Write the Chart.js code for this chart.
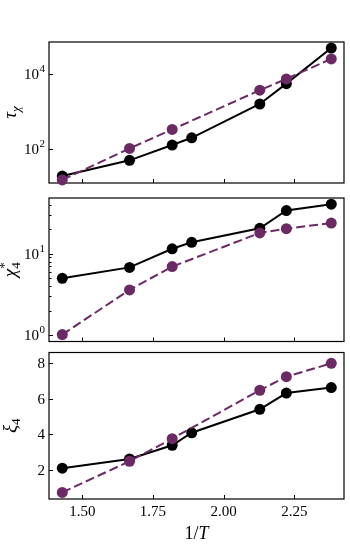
<!DOCTYPE html>
<html>
<head>
<meta charset="utf-8">
<script src="https://cdn.jsdelivr.net/npm/chart.js@4.4.0/dist/chart.umd.min.js"></script>
<style>
  body { margin: 0; background: #fff; }
  #wrap { position: relative; width: 350px; height: 547px; }
  canvas { position: absolute; left: 0; }
</style>
</head>
<body>
<div id="wrap">
  <canvas id="c1" style="top:0px"></canvas>
  <canvas id="c2" style="top:190px"></canvas>
  <canvas id="c3" style="top:347px"></canvas>
</div>
<script>
// datos
const xBlack = [1.429, 1.667, 1.818, 1.887, 2.128, 2.222, 2.381]
const xPurple = [1.429, 1.667, 1.818, 2.128, 2.222, 2.381]

const tauBlack = [19, 50, 128, 200, 1600, 5600, 50000]
const tauPurple = [15, 104, 334, 3750, 7500, 25700]
const chiBlack = [5.0, 6.8, 11.5, 13.8, 20.5, 33.9, 40.5]
const chiPurple = [1.02, 3.6, 6.95, 18, 20.3, 23.8]
const xiBlack = [2.09, 2.61, 3.38, 4.08, 5.40, 6.31, 6.62]
const xiPurple = [0.73, 2.48, 3.75, 6.47, 7.23, 7.98]

const xTicks = [1.5, 1.75, 2.0, 2.25]
const xTickLabels = ['1.50', '1.75', '2.00', '2.25']
const tauTicks = [100, 10000]
const tauTickLabels = [['10', '2'], ['10', '4']]
const chiTicks = [1, 10]
const chiMinorTicks = [2, 3, 4, 5, 6, 7, 8, 9, 20, 30, 40]
const chiTickLabels = [['10', '0'], ['10', '1']]
const xiTicks = [2, 4, 6, 8]
const xiTickLabels = [['2', ''], ['4', ''], ['6', ''], ['8', '']]

const BLACK = '#000000'
const PURPLE = '#6b2a63'
const FONT = "'Liberation Serif', 'DejaVu Serif', serif"

const pts = (xs, ys) => xs.map((x, i) => ({ x: x, y: ys[i] }))

// titulo del eje y con subindices, dibujado a mano
const drawYTitle = (ctx, cx, cy, parts) => {
  ctx.save()
  ctx.translate(cx, cy)
  ctx.rotate(-Math.PI / 2)
  ctx.fillStyle = '#000'
  ctx.textBaseline = 'alphabetic'
  let w = 0
  parts.forEach(p => {
    ctx.font = `${p.italic ? 'italic ' : ''}${p.size}px ${FONT}`
    p.w = ctx.measureText(p.t).width
    if (!p.stack) w += p.w
  })
  let x = -w / 2
  let lastX = x
  parts.forEach(p => {
    ctx.font = `${p.italic ? 'italic ' : ''}${p.size}px ${FONT}`
    const px = p.stack ? lastX : x
    ctx.fillText(p.t, px, 5 + p.dy)
    if (!p.stack) { lastX = x; x += p.w }
  })
  ctx.restore()
}

const boxTicks = {
  id: 'boxTicks',
  beforeDatasetsDraw(chart, args, opts) {
    const { ctx, chartArea: a, scales } = chart
    ctx.save()
    ctx.strokeStyle = '#000'
    ctx.lineWidth = 1
    ctx.beginPath()
    xTicks.forEach(v => {
      const px = Math.round(scales.x.getPixelForValue(v)) + 0.5
      ctx.moveTo(px, a.bottom)
      ctx.lineTo(px, a.bottom - 4)
    })
    opts.yTicks.forEach(v => {
      const py = Math.round(scales.y.getPixelForValue(v)) + 0.5
      ctx.moveTo(a.left, py)
      ctx.lineTo(a.left + 4, py)
    })
    opts.yMinor.forEach(v => {
      const py = Math.round(scales.y.getPixelForValue(v)) + 0.5
      ctx.moveTo(a.left, py)
      ctx.lineTo(a.left + 2.5, py)
    })
    ctx.stroke()
    ctx.lineWidth = 1.2
    ctx.strokeRect(a.left, a.top, a.right - a.left, a.bottom - a.top)

    // etiquetas del eje y
    ctx.fillStyle = '#000'
    ctx.textBaseline = 'middle'
    opts.yTicks.forEach((v, i) => {
      const py = scales.y.getPixelForValue(v)
      const [base, exp] = opts.yLabels[i]
      ctx.font = `15px ${FONT}`
      const wb = ctx.measureText(base).width
      ctx.font = `11px ${FONT}`
      const we = exp ? ctx.measureText(exp).width + 0.5 : 0
      const right = 45
      ctx.textAlign = 'left'
      ctx.font = `15px ${FONT}`
      ctx.fillText(base, right - we - wb, py + 1)
      if (exp) {
        ctx.font = `11px ${FONT}`
        ctx.fillText(exp, right - we + 0.5, py - 5)
      }
    })

    if (opts.xTitle) {
      ctx.textAlign = 'center'
      ctx.textBaseline = 'middle'
      ctx.font = `15px ${FONT}`
      xTicks.forEach((v, i) => {
        ctx.fillText(xTickLabels[i], scales.x.getPixelForValue(v), a.bottom + 13)
      })
      const cx = (a.left + a.right) / 2
      const y = a.bottom + 40
      ctx.textAlign = 'left'
      ctx.textBaseline = 'alphabetic'
      ctx.font = `18px ${FONT}`
      const w1 = ctx.measureText('1/').width
      ctx.font = `italic 18px ${FONT}`
      const w2 = ctx.measureText('T').width
      let x = cx - (w1 + w2) / 2
      ctx.font = `18px ${FONT}`
      ctx.fillText('1/', x, y)
      ctx.font = `italic 18px ${FONT}`
      ctx.fillText('T', x + w1, y)
    }
    ctx.restore()
    drawYTitle(ctx, 11, (a.top + a.bottom) / 2, opts.title)
  }
}

function makePanel(id, h, padTop, xHeight, showX, yCfg, black, purple, title) {
  const el = document.getElementById(id)
  el.width = 350
  el.height = h
  el.style.width = '350px'
  el.style.height = h + 'px'
  new Chart(el.getContext('2d'), {
    type: 'line',
    data: {
      datasets: [
        {
          data: purple,
          borderColor: PURPLE,
          backgroundColor: PURPLE,
          borderWidth: 2,
          borderDash: [9, 4],
          pointRadius: 5.5,
          pointBorderWidth: 0,
          clip: false,
          order: 0
        },
        {
          data: black,
          borderColor: BLACK,
          backgroundColor: BLACK,
          borderWidth: 2,
          pointRadius: 5.5,
          pointBorderWidth: 0,
          clip: false,
          order: 1
        }
      ]
    },
    options: {
      responsive: false,
      animation: false,
      devicePixelRatio: 1,
      layout: { padding: { top: padTop, right: 6, bottom: 0, left: 0 } },
      plugins: {
        legend: { display: false },
        tooltip: { enabled: false },
        boxTicks: { yTicks: yCfg.ticks, yMinor: yCfg.minor, yLabels: yCfg.labels, title: title, xTitle: showX }
      },
      scales: {
        x: {
          type: 'linear',
          min: 1.382,
          max: 2.426,
          grid: { display: false },
          border: { display: false },
          afterFit: s => { s.height = xHeight },
          ticks: { display: false }
        },
        y: {
          type: yCfg.type,
          min: yCfg.min,
          max: yCfg.max,
          grid: { display: false },
          border: { display: false },
          afterFit: s => { s.width = 49 },
          ticks: { display: false }
        }
      }
    },
    plugins: [boxTicks]
  })
}

makePanel('c1', 190, 42, 7, false,
  { type: 'logarithmic', min: 12.4, max: 72600, ticks: tauTicks, minor: [], labels: tauTickLabels },
  pts(xBlack, tauBlack), pts(xPurple, tauPurple),
  [{ t: 'τ', size: 19, italic: true, dy: 0 }, { t: 'χ', size: 13, italic: true, dy: 4 }])

makePanel('c2', 157, 8, 4, false,
  { type: 'logarithmic', min: 0.838, max: 48.3, ticks: chiTicks, minor: chiMinorTicks, labels: chiTickLabels },
  pts(xBlack, chiBlack), pts(xPurple, chiPurple),
  [{ t: 'χ', size: 19, italic: true, dy: 0 }, { t: '4', size: 13, italic: false, dy: 4 },
   { t: '*', size: 13, italic: false, dy: -8, stack: true }])

makePanel('c3', 200, 3, 48, true,
  { type: 'linear', min: 0.36, max: 8.59, ticks: xiTicks, minor: [], labels: xiTickLabels },
  pts(xBlack, xiBlack), pts(xPurple, xiPurple),
  [{ t: 'ξ', size: 19, italic: true, dy: 0 }, { t: '4', size: 13, italic: false, dy: 4 }])
</script>
</body>
</html>
